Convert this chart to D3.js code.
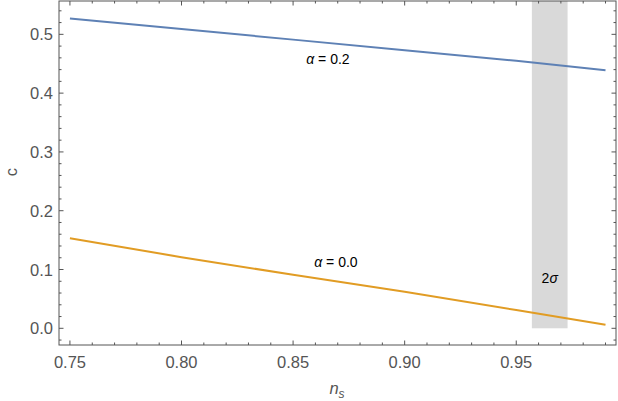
<!DOCTYPE html>
<html>
<head>
<meta charset="utf-8">
<script src="https://cdn.jsdelivr.net/npm/d3@7"></script>
<style>
  body { margin: 0; background: #fff; }
  svg { font-family: "Liberation Sans", Arial, sans-serif; }
</style>
</head>
<body>
<div id="chart"></div>
<script>
// n_s sample points and c values for both alpha curves
const ns = [0.75, 0.80, 0.85, 0.90, 0.95, 0.99];
const cAlpha02 = [0.527, 0.509, 0.491, 0.473, 0.455, 0.439];
const cAlpha00 = [0.153, 0.121, 0.091, 0.062, 0.031, 0.006];
const band2sigma = [0.957, 0.973];
const xTicks = [0.75, 0.80, 0.85, 0.90, 0.95];
const yTicks = [0.0, 0.1, 0.2, 0.3, 0.4, 0.5];

const W = 618, H = 401;
const margin = {top: 1, right: 2, bottom: 56, left: 59};
const width = W - margin.left - margin.right;
const height = H - margin.top - margin.bottom;

const svg = d3.select("#chart").append("svg")
    .attr("width", W).attr("height", H);
const g = svg.append("g")
    .attr("transform", "translate(" + margin.left + "," + margin.top + ")");

const x = d3.scaleLinear().domain([0.7451, 0.9947]).range([0, width]);
const y = d3.scaleLinear().domain([-0.0284, 0.5567]).range([height, 0]);

// 2 sigma band
g.append("rect")
    .attr("x", x(band2sigma[0]))
    .attr("width", x(band2sigma[1]) - x(band2sigma[0]))
    .attr("y", 0)
    .attr("height", y(0))
    .attr("fill", "#d9d9d9");

const line = d3.line().x(d => x(d[0])).y(d => y(d[1]));

g.append("path")
    .datum(ns.map((v, i) => [v, cAlpha02[i]]))
    .attr("d", line)
    .attr("fill", "none")
    .attr("stroke", "#5e81b5")
    .attr("stroke-width", 2);

g.append("path")
    .datum(ns.map((v, i) => [v, cAlpha00[i]]))
    .attr("d", line)
    .attr("fill", "none")
    .attr("stroke", "#e19c24")
    .attr("stroke-width", 2);

// frame
g.append("rect")
    .attr("width", width).attr("height", height)
    .attr("fill", "none").attr("stroke", "#555").attr("stroke-width", 1);

const xMinor = d3.range(0.75, 0.995, 0.01).filter(v => xTicks.every(t => Math.abs(t - v) > 1e-6));
const yMinor = d3.range(-0.02, 0.555, 0.02).filter(v => yTicks.every(t => Math.abs(t - v) > 1e-6));

const tickColor = "#555";
// ticks point inward on all four sides
[[0, -1], [height, 1]].forEach(([yy, s]) => {
    g.selectAll(null).data(xTicks).enter().append("line")
        .attr("x1", d => x(d)).attr("x2", d => x(d))
        .attr("y1", yy).attr("y2", yy - s * 4.5)
        .attr("stroke", tickColor);
    g.selectAll(null).data(xMinor).enter().append("line")
        .attr("x1", d => x(d)).attr("x2", d => x(d))
        .attr("y1", yy).attr("y2", yy - s * 2.5)
        .attr("stroke", tickColor);
});
[[0, 1], [width, -1]].forEach(([xx, s]) => {
    g.selectAll(null).data(yTicks).enter().append("line")
        .attr("y1", d => y(d)).attr("y2", d => y(d))
        .attr("x1", xx).attr("x2", xx + s * 4.5)
        .attr("stroke", tickColor);
    g.selectAll(null).data(yMinor).enter().append("line")
        .attr("y1", d => y(d)).attr("y2", d => y(d))
        .attr("x1", xx).attr("x2", xx + s * 2.5)
        .attr("stroke", tickColor);
});

// tick labels
g.selectAll(null).data(xTicks).enter().append("text")
    .attr("x", d => x(d)).attr("y", height + 23)
    .attr("text-anchor", "middle")
    .attr("font-size", 16.5).attr("fill", "#555")
    .text(d => d.toFixed(2));
g.selectAll(null).data(yTicks).enter().append("text")
    .attr("x", -6).attr("y", d => y(d) + 6)
    .attr("text-anchor", "end")
    .attr("font-size", 16.5).attr("fill", "#555")
    .text(d => d.toFixed(1));

// axis labels
svg.append("text")
    .attr("transform", "translate(17,172) rotate(-90)")
    .attr("text-anchor", "middle")
    .attr("font-size", 16.5).attr("fill", "#555")
    .text("c");
const xl = svg.append("text")
    .attr("x", 337).attr("y", 394)
    .attr("text-anchor", "middle")
    .attr("font-size", 16.5).attr("fill", "#555")
    .attr("font-style", "italic");
xl.append("tspan").text("n");
xl.append("tspan").attr("font-size", 12).attr("dy", 4).text("s");

// curve annotations
const ann = [
    {lab: "0.2", nx: 0.8656, cy: 0.45},
    {lab: "0.0", nx: 0.8692, cy: 0.104}
];
ann.forEach(a => {
    const t = g.append("text")
        .attr("x", x(a.nx)).attr("y", y(a.cy))
        .attr("text-anchor", "middle")
        .attr("font-size", 14).attr("fill", "#000");
    t.append("tspan").attr("font-style", "italic").text("α");
    t.append("tspan").text(" = " + a.lab);
});
const sg = g.append("text")
    .attr("x", x(0.965)).attr("y", y(0.077))
    .attr("text-anchor", "middle")
    .attr("font-size", 14).attr("fill", "#000");
sg.append("tspan").text("2");
sg.append("tspan").attr("font-style", "italic").text("σ");
</script>
</body>
</html>
